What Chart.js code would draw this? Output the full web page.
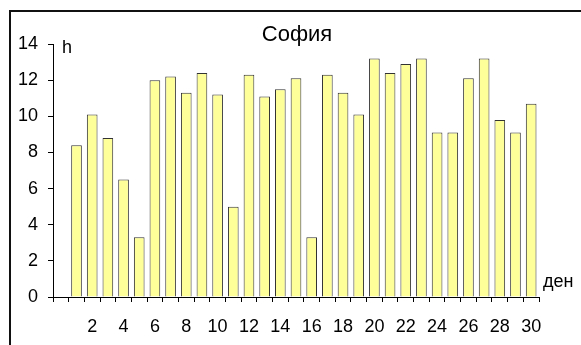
<!DOCTYPE html>
<html>
<head>
<meta charset="utf-8">
<script src="https://cdn.jsdelivr.net/npm/chart.js@4"></script>
<style>
  html, body { margin: 0; padding: 0; background: #fff; overflow: hidden; }
  #wrap { width: 581px; height: 345px; }
</style>
</head>
<body>
<div id="wrap"><canvas id="chart" width="581" height="345"></canvas></div>
<script>
// first slot is left empty, as in the original sheet
const days = ['', 1, 2, 3, 4, 5, 6, 7, 8, 9, 10, 11, 12, 13, 14, 15,
  16, 17, 18, 19, 20, 21, 22, 23, 24, 25, 26, 27, 28, 29, 30];
const hours = [null, 8.4, 10.1, 8.8, 6.5, 3.3, 12.0, 12.2, 11.3, 12.4, 11.2,
  5.0, 12.3, 11.1, 11.5, 12.1, 3.3, 12.3, 11.3, 10.1, 13.2,
  12.4, 12.9, 13.2, 9.1, 9.1, 12.1, 13.2, 9.8, 9.1, 10.7];
const yTicks = [0, 2, 4, 6, 8, 10, 12, 14];

const titleText = 'София';
const yUnit = 'h';
const xUnit = 'ден';
const font = 'Arial, "Liberation Sans", sans-serif';

// frame, title and axis unit labels
const extras = {
  id: 'extras',
  beforeDraw(chart) {
    const ctx = chart.ctx;
    ctx.save();
    ctx.fillStyle = '#fff';
    ctx.fillRect(0, 0, chart.width, chart.height);
    ctx.strokeStyle = '#111';
    ctx.lineWidth = 2;
    ctx.strokeRect(10, 11, 700, 500);
    ctx.restore();
  },
  afterDraw(chart) {
    const ctx = chart.ctx;
    ctx.save();
    ctx.fillStyle = '#000';
    ctx.textBaseline = 'alphabetic';
    ctx.textAlign = 'center';
    ctx.font = '22px ' + font;
    ctx.fillText(titleText, 297, 41);
    ctx.textAlign = 'left';
    ctx.font = '18px ' + font;
    ctx.fillText(yUnit, 62, 53);
    ctx.fillText(xUnit, 543, 287);
    ctx.restore();
  }
};

new Chart(document.getElementById('chart').getContext('2d'), {
  type: 'bar',
  data: {
    labels: days,
    datasets: [{
      data: hours,
      backgroundColor: '#ffff99',
      borderColor: '#333333',
      borderWidth: 1,
      barPercentage: 0.68,
      categoryPercentage: 1
    }]
  },
  options: {
    responsive: false,
    animation: false,
    layout: { padding: { left: 0, right: 42, top: 44, bottom: 0 } },
    plugins: {
      legend: { display: false },
      tooltip: { enabled: false },
      title: { display: false }
    },
    scales: {
      x: {
        offset: true,
        grid: { offset: true, drawOnChartArea: false, tickLength: 5, color: '#000' },
        border: { color: '#000', width: 1 },
        ticks: {
          autoSkip: false,
          maxRotation: 0,
          padding: 14,
          color: '#000',
          font: { family: font, size: 18 },
          callback: function (v) {
            const d = days[v];
            return (d !== '' && d % 2 === 0) ? String(d) : '';
          }
        },
        afterFit: s => { s.height = 48; }
      },
      y: {
        min: 0,
        max: 14,
        afterBuildTicks: s => { s.ticks = yTicks.map(v => ({ value: v })); },
        grid: { drawOnChartArea: false, tickLength: 5, color: '#000' },
        border: { color: '#000', width: 1 },
        ticks: {
          padding: 10,
          color: '#000',
          font: { family: font, size: 18 }
        },
        afterFit: s => { s.width = 53; }
      }
    }
  },
  plugins: [extras]
});
</script>
</body>
</html>
